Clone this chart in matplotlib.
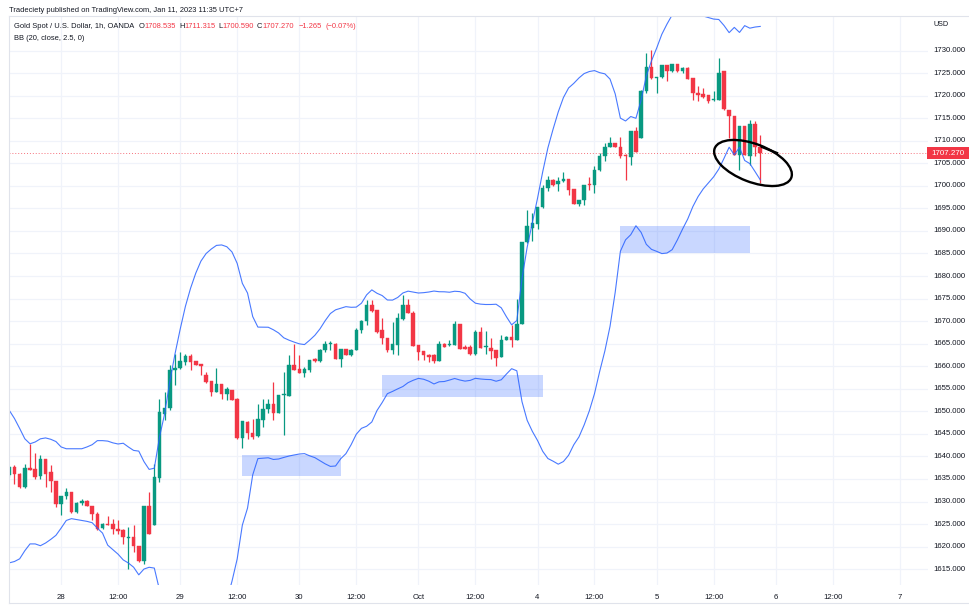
import numpy as np
import pandas as pd
import matplotlib
matplotlib.use("Agg")
import matplotlib.pyplot as plt
from matplotlib.patches import Rectangle, Ellipse
from matplotlib.transforms import IdentityTransform

plt.rcParams['font.family'] = ['Liberation Sans', 'DejaVu Sans']

# ---------------- data (1h candles, Gold Spot / USD) ----------------
opens = [1635.8, 1637.6, 1636.2, 1633.2, 1637.4, 1637.1, 1635.6, 1639.5, 1636.5, 1634.5,
         1629.5, 1631.3, 1632.0, 1627.7, 1629.7, 1630.2, 1629.1, 1627.3, 1624.1, 1625.0,
         1625.0, 1623.9, 1623.6, 1622.0, 1622.1, 1620.2, 1616.9, 1629.1, 1624.7, 1635.2,
         1649.5, 1650.8, 1659.1, 1659.5, 1661.0, 1662.3, 1661.1, 1660.4, 1658.0, 1656.7,
         1654.3, 1656.0, 1653.9, 1654.8, 1652.8, 1644.1, 1647.6, 1645.3, 1644.5, 1648.0,
         1650.6, 1651.7, 1649.7, 1653.6, 1653.4, 1660.2, 1659.3, 1658.4, 1659.1, 1661.6,
         1661.1, 1663.6, 1665.0, 1665.0, 1661.7, 1663.8, 1662.5, 1663.6, 1668.0, 1670.0,
         1673.6, 1672.5, 1668.0, 1666.2, 1663.6, 1664.8, 1670.5, 1673.6, 1671.9, 1664.7,
         1663.3, 1662.5, 1662.4, 1661.1, 1665.0, 1664.6, 1664.7, 1669.3, 1664.3, 1664.3,
         1662.6, 1667.5, 1664.3, 1664.1, 1663.6, 1662.1, 1665.9, 1666.5, 1665.9, 1669.3,
         1687.5, 1690.6, 1691.5, 1695.4, 1699.6, 1701.3, 1700.4, 1701.0, 1701.5, 1699.3,
         1696.0, 1696.9, 1700.2, 1700.2, 1703.6, 1706.5, 1708.7, 1709.5, 1708.7, 1706.9,
         1706.3, 1712.2, 1710.6, 1721.1, 1726.3, 1723.8, 1724.1, 1726.7, 1725.4, 1727.0,
         1725.4, 1726.2, 1723.8, 1720.6, 1720.4, 1720.1, 1719.1, 1719.1, 1725.4, 1716.9,
         1715.4, 1706.9, 1713.2, 1706.5, 1713.7, 1708.535]
highs = [1637.8, 1638.2, 1636.4, 1638.4, 1642.8, 1640.8, 1640.4, 1639.5, 1638.2, 1634.5,
         1631.3, 1633.0, 1632.0, 1629.9, 1630.6, 1630.4, 1629.1, 1627.6, 1625.3, 1626.7,
         1626.2, 1625.8, 1624.0, 1624.3, 1624.7, 1620.2, 1629.1, 1632.1, 1638.4, 1652.8,
         1654.3, 1660.2, 1662.8, 1663.2, 1662.8, 1662.8, 1661.1, 1660.4, 1658.8, 1656.7,
         1659.6, 1656.0, 1655.4, 1654.8, 1652.9, 1647.8, 1647.8, 1648.4, 1651.7, 1652.7,
         1652.7, 1656.5, 1653.6, 1658.8, 1662.5, 1664.9, 1662.5, 1659.9, 1661.3, 1661.8,
         1663.8, 1665.6, 1665.6, 1665.2, 1663.8, 1663.8, 1663.8, 1668.4, 1670.2, 1674.7,
         1674.7, 1672.5, 1670.6, 1666.2, 1669.9, 1671.7, 1675.8, 1675.0, 1672.2, 1664.7,
         1663.3, 1662.8, 1662.8, 1665.5, 1665.2, 1665.8, 1670.0, 1669.3, 1664.8, 1664.7,
         1668.0, 1668.8, 1667.8, 1666.2, 1663.6, 1666.9, 1666.6, 1669.1, 1675.0, 1687.5,
         1694.7, 1693.9, 1695.4, 1700.2, 1702.1, 1701.5, 1701.9, 1703.0, 1701.5, 1699.3,
         1696.9, 1700.2, 1701.9, 1704.3, 1707.3, 1709.5, 1710.8, 1709.6, 1710.8, 1707.0,
         1712.2, 1713.0, 1721.3, 1729.5, 1730.2, 1724.2, 1726.8, 1726.8, 1727.1, 1727.1,
         1726.3, 1726.3, 1723.8, 1722.1, 1721.7, 1720.1, 1721.0, 1728.4, 1725.4, 1716.9,
         1715.4, 1713.2, 1713.2, 1714.7, 1714.3, 1711.315]
lows = [1635.5, 1633.9, 1633.0, 1633.0, 1637.0, 1635.1, 1635.1, 1633.2, 1632.1, 1628.8,
        1626.9, 1630.6, 1627.4, 1627.5, 1629.3, 1629.0, 1625.8, 1623.6, 1623.8, 1624.7,
        1622.8, 1622.8, 1620.6, 1615.0, 1618.8, 1616.5, 1616.2, 1622.8, 1624.7, 1634.3,
        1648.0, 1650.2, 1655.8, 1659.4, 1660.2, 1659.1, 1660.2, 1658.0, 1656.2, 1653.4,
        1654.2, 1652.8, 1652.5, 1652.5, 1643.9, 1641.9, 1643.9, 1643.9, 1644.3, 1646.5,
        1649.7, 1648.0, 1649.7, 1644.8, 1653.4, 1659.1, 1658.4, 1657.6, 1658.8, 1661.0,
        1661.0, 1663.2, 1663.6, 1661.7, 1659.9, 1662.5, 1662.3, 1663.6, 1667.3, 1669.1,
        1672.1, 1667.3, 1665.0, 1663.2, 1662.8, 1662.5, 1670.2, 1671.9, 1664.5, 1661.3,
        1661.3, 1661.0, 1660.8, 1661.1, 1664.3, 1664.5, 1664.7, 1663.8, 1663.8, 1662.5,
        1662.5, 1664.0, 1662.6, 1661.6, 1660.1, 1662.1, 1665.8, 1664.3, 1665.9, 1669.3,
        1687.3, 1687.8, 1690.5, 1695.0, 1698.8, 1700.0, 1698.8, 1700.9, 1698.0, 1696.0,
        1695.6, 1695.8, 1699.1, 1698.4, 1703.2, 1705.4, 1708.5, 1708.7, 1706.2, 1701.3,
        1704.7, 1707.6, 1710.6, 1720.6, 1723.6, 1720.6, 1724.0, 1723.2, 1725.3, 1725.3,
        1725.0, 1723.6, 1719.1, 1718.8, 1719.5, 1718.4, 1718.8, 1719.0, 1716.9, 1710.6,
        1706.9, 1703.6, 1706.9, 1704.7, 1706.5, 1700.590]
closes = [1637.6, 1636.0, 1633.2, 1637.4, 1637.0, 1635.4, 1639.5, 1636.2, 1634.5, 1629.5,
          1631.3, 1632.0, 1627.6, 1629.7, 1630.2, 1629.1, 1627.3, 1623.9, 1625.0, 1624.8,
          1623.8, 1623.4, 1622.1, 1622.2, 1620.2, 1616.9, 1629.1, 1622.8, 1635.4, 1649.9,
          1650.8, 1659.1, 1659.6, 1661.1, 1662.3, 1661.0, 1660.2, 1660.0, 1656.5, 1654.3,
          1656.0, 1653.9, 1654.9, 1652.6, 1644.1, 1647.8, 1645.3, 1644.3, 1648.2, 1650.5,
          1651.7, 1649.7, 1653.6, 1653.8, 1660.2, 1659.1, 1658.4, 1659.3, 1661.3, 1661.1,
          1663.6, 1665.0, 1665.1, 1661.7, 1663.8, 1662.5, 1663.6, 1668.0, 1670.0, 1673.6,
          1672.2, 1667.6, 1666.2, 1663.6, 1665.0, 1670.6, 1673.6, 1671.9, 1664.5, 1663.2,
          1662.5, 1662.1, 1661.1, 1665.0, 1664.3, 1664.7, 1669.3, 1663.8, 1663.8, 1662.6,
          1667.5, 1664.0, 1664.4, 1663.3, 1661.9, 1665.9, 1666.5, 1665.9, 1669.3, 1687.5,
          1691.0, 1691.7, 1695.4, 1699.6, 1701.3, 1700.2, 1701.0, 1701.5, 1699.1, 1696.0,
          1696.9, 1700.2, 1700.1, 1703.6, 1706.5, 1708.7, 1709.5, 1708.7, 1706.5, 1706.5,
          1712.2, 1707.6, 1721.1, 1726.3, 1723.8, 1724.1, 1726.7, 1725.4, 1727.0, 1725.4,
          1726.2, 1723.6, 1720.6, 1720.1, 1719.6, 1718.8, 1719.3, 1725.0, 1717.0, 1715.4,
          1706.9, 1713.2, 1706.9, 1713.7, 1708.7, 1707.270]

# Bollinger band values before the 20-bar window is filled
bb_upper_head = [1650.2, 1648.4, 1646.2, 1643.9, 1642.8, 1643.2, 1643.9, 1644.1, 1643.8, 1643.3,
                 1642.1, 1641.7, 1641.7, 1641.7, 1641.7, 1642.1, 1642.6, 1643.5, 1643.5]
bb_lower_head = [1616.4, 1616.7, 1617.3, 1619.1, 1620.6, 1620.6, 1620.2, 1620.8, 1621.6, 1622.5,
                 1624.1, 1625.8, 1626.2, 1626.0, 1625.8, 1625.6, 1625.3, 1624.1, 1623.0]
bb_length = 20
bb_mult = 2.5

tick_labels = ["28", "12:00", "29", "12:00", "30", "12:00", "Oct", "12:00", "4", "12:00",
               "5", "12:00", "6", "12:00", "7"]
tick_bars = [10, 21, 33, 44, 56, 67, 79, 90, 102, 113, 125, 136, 148, 159, 172]

# highlighted zones: (start bar, end bar, low price, high price)
zones = [(44.9, 64.0, 1635.65, 1640.3),
         (71.9, 103.0, 1653.2, 1658.05),
         (118.0, 143.0, 1685.1, 1691.1)]

last_price = 1707.270
price_ticks = list(range(1615, 1731, 5))

# ---------------- figure ----------------
W, H = 969, 609
fig = plt.figure(figsize=(W / 100, H / 100), dpi=100)
fig.patch.set_facecolor("white")

ax_l, ax_r, ax_t, ax_b = 9, 928, 16, 585
ax = fig.add_axes([ax_l / W, 1 - ax_b / H, (ax_r - ax_l) / W, (ax_b - ax_t) / H])
ax.set_xlim(-0.06, 177.4)
ax.set_ylim(1611.49, 1737.65)
for s in ax.spines.values():
    s.set_visible(False)

UP, DOWN = "#089981", "#f23645"
GRID = "#f0f3fa"
TXT = "#131722"

for p in price_ticks:
    ax.axhline(p, color=GRID, lw=0.9, zorder=0)
for b in tick_bars:
    ax.axvline(b, color=GRID, lw=0.9, zorder=0)

o = np.array(opens); h = np.array(highs); l = np.array(lows); c = np.array(closes)
x = np.arange(len(o))
cols = np.where(c >= o, UP, DOWN)
ax.vlines(x, l, h, colors=cols, lw=0.9, zorder=2)
body_bot = np.minimum(o, c)
body_h = np.maximum(np.abs(c - o), 0.22)
ax.bar(x, body_h, bottom=body_bot, width=0.68, color=cols, edgecolor=cols, lw=0.3, zorder=3)

# Bollinger bands
cs = pd.Series(closes)
mid = cs.rolling(bb_length).mean()
sd = cs.rolling(bb_length).std(ddof=0)
upper = (mid + bb_mult * sd).to_numpy()
lower = (mid - bb_mult * sd).to_numpy()
upper[:bb_length - 1] = bb_upper_head
lower[:bb_length - 1] = bb_lower_head
ax.plot(x, upper, color="#2962ff", lw=0.8, zorder=4, alpha=0.85)
ax.plot(x, lower, color="#2962ff", lw=0.8, zorder=4, alpha=0.85)

# zones
for x0, x1, p0, p1 in zones:
    ax.add_patch(Rectangle((x0, p0), x1 - x0, p1 - p0, facecolor="#2962ff", alpha=0.25,
                           edgecolor="none", zorder=5))

# last price dotted line
ax.axhline(last_price, color=DOWN, lw=0.7, ls=(0, (1, 2)), alpha=0.7, zorder=1)

# x tick labels
ax.set_xticks(tick_bars)
ax.set_xticklabels(tick_labels, fontsize=5.6, color=TXT)
ax.tick_params(axis="x", length=0, pad=6.5)
ax.set_yticks([])

# price axis labels
for p in price_ticks:
    yy = ax.transData.transform((0, p))[1]
    fig.text(933 / W, yy / H, f"{p:.3f}", fontsize=5.6, color=TXT, va="center", ha="left")
fig.text(933 / W, 1 - 25 / H, "USD", fontsize=5.2, color=TXT, va="center", ha="left")

# last price label
yy = ax.transData.transform((0, last_price))[1]
fig.patches.append(Rectangle((927 / W, (yy - 6) / H), 42 / W, 12 / H, transform=fig.transFigure,
                             facecolor=DOWN, edgecolor="none", zorder=10))
fig.text(948 / W, yy / H, f"{last_price:.3f}", fontsize=5.8, color="white", va="center",
         ha="center", zorder=11)

# frame
fig.add_artist(plt.Line2D([9 / W, 9 / W], [1 - 16 / H, 1 - 603 / H], color="#e0e3eb", lw=0.8,
                          transform=fig.transFigure))
fig.add_artist(plt.Line2D([9 / W, 1], [1 - 16 / H, 1 - 16 / H], color="#e0e3eb", lw=0.8,
                          transform=fig.transFigure))
fig.add_artist(plt.Line2D([9 / W, 1], [1 - 603 / H, 1 - 603 / H], color="#e0e3eb", lw=0.8,
                          transform=fig.transFigure))

# hand-drawn ellipse (display pixel coordinates)
cx, cy = 753, 163
ell = Ellipse((cx, H - cy), 82, 38, angle=-21, transform=IdentityTransform(),
              fill=False, edgecolor="black", lw=1.7, zorder=12)
fig.add_artist(ell)
fig.add_artist(plt.Line2D([762, 777], [H - 147, H - 153], color="black", lw=1.7,
                          transform=IdentityTransform()))

# header texts
renderer = fig.canvas.get_renderer()
HS = 5.4


def ftext(px, py, s, color=TXT, size=HS):
    t = fig.text(px / W, 1 - py / H, s, fontsize=size, color=color, va="center", ha="left")
    return t.get_window_extent(renderer).x1


ftext(9, 10, "Tradeciety published on TradingView.com, Jan 11, 2023 11:35 UTC+7")
xe = ftext(14, 26.5, "Gold Spot / U.S. Dollar, 1h, OANDA")
xe += 4.5
for lab, val in [("O", "1708.535"), ("H", "1711.315"), ("L", "1700.590"), ("C", "1707.270")]:
    xe = ftext(xe, 26.5, lab)
    xe = ftext(xe + 0.3, 26.5, val, DOWN)
    xe += 2.7
xe += 1.6
xe = ftext(xe, 26.5, "\u22121.265", DOWN)
ftext(xe + 4.0, 26.5, "(\u22120.07%)", DOWN)
ftext(14, 38.3, "BB (20, close, 2.5, 0)")

fig.savefig("out.png", dpi=100)
